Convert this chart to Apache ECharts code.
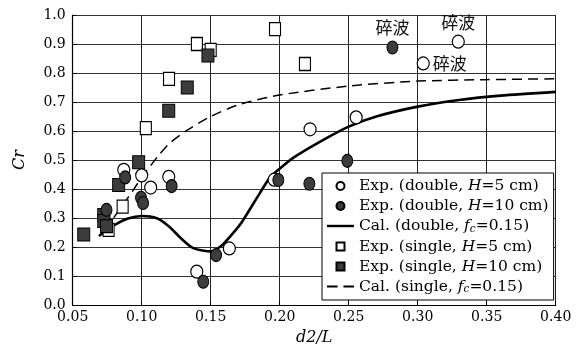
<!DOCTYPE html>
<html><head><meta charset="utf-8">
<script src="https://cdn.jsdelivr.net/npm/echarts@6/dist/echarts.min.js"></script>
<style>html,body{margin:0;padding:0;background:#fff}#c{width:578px;height:360px}</style>
</head><body><div id="c"></div>
<script>
// ---- data ----
const seriesNames = ['Exp. (double, H=5 cm)', 'Exp. (double, H=10 cm)', 'Cal. (double, fc=0.15)',
  'Exp. (single, H=5 cm)', 'Exp. (single, H=10 cm)', 'Cal. (single, fc=0.15)'];
const doubleH5 = [[0.087,0.466],[0.100,0.447],[0.1065,0.405],[0.1196,0.442],[0.1399,0.115],[0.1635,0.195],
  [0.196,0.432],[0.222,0.606],[0.2554,0.647],[0.304,0.833],[0.3294,0.908]];
const doubleH10 = [[0.088,0.44],[0.0745,0.328],[0.0995,0.37],[0.101,0.352],[0.1217,0.41],[0.1446,0.08],
  [0.1539,0.172],[0.199,0.431],[0.2215,0.418],[0.249,0.497],[0.2817,0.888]];
const calDouble = [[0.069,0.238],[0.08,0.275],[0.09,0.298],[0.10,0.307],[0.111,0.299],[0.12,0.27],[0.128,0.232],
  [0.1374,0.196],[0.1507,0.185],[0.158,0.205],[0.164,0.236],[0.172,0.282],[0.1855,0.385],[0.193,0.44],[0.20,0.47],
  [0.21,0.508],[0.23,0.565],[0.25,0.615],[0.27,0.65],[0.30,0.684],[0.33,0.707],[0.36,0.722],[0.40,0.735]];
const singleH5 = [[0.076,0.259],[0.0862,0.339],[0.103,0.61],[0.1198,0.78],[0.140,0.90],[0.150,0.88],
  [0.1966,0.951],[0.2183,0.831]];
const singleH10 = [[0.058,0.243],[0.0725,0.31],[0.0725,0.29],[0.0745,0.272],[0.0833,0.414],[0.0978,0.492],
  [0.1196,0.67],[0.133,0.75],[0.148,0.86]];
const calSingle = [[0.072,0.26],[0.078,0.29],[0.084,0.33],[0.093,0.39],[0.10,0.44],[0.108,0.49],[0.113,0.52],
  [0.12,0.557],[0.133,0.603],[0.15,0.65],[0.17,0.69],[0.20,0.724],[0.25,0.755],[0.30,0.772],[0.35,0.777],[0.40,0.78]];
const breakText = '碎波';
const breakOpen = [9, 10];   // indices in doubleH5 with label
const breakFilled = [10];    // indices in doubleH10 with label
const xTicks = ['0.05','0.10','0.15','0.20','0.25','0.30','0.35','0.40'];
const yTicks = ['0.0','0.1','0.2','0.3','0.4','0.5','0.6','0.7','0.8','0.9','1.0'];

// ---- chart ----
const serif = 'DejaVu Serif';
const cjk = 'Noto Sans CJK JP';
function withLabels(arr, idx, pos) {
  return arr.map((p, i) => {
    if (!idx.includes(i)) return p;
    const j = idx.indexOf(i);
    return { value: p, label: { show: true, formatter: breakText, position: pos[j], distance: pos[j]==='right'?3:4,
      fontFamily: cjk, fontSize: 17, color: '#111' } };
  });
}
const chart = echarts.init(document.getElementById('c'), null, { renderer: 'canvas' });
const openStyle = { color: '#fff', borderColor: '#000', borderWidth: 1.2, opacity: 1 };
const filledStyle = { color: '#3c3c3c', borderColor: '#000', borderWidth: 1, opacity: 1 };
const sqIcon = 'path://M0,0h10v10h-10z';
const solidIcon = 'path://M0,0h27v2.4h-27z';
const dashIcon = 'path://M0,0h9v1.5h-9z M14,0h9v1.5h-9z';
chart.setOption({
  animation: false,
  backgroundColor: '#fff',
  grid: { left: 72.7, right: 22.3, top: 15, bottom: 55, containLabel: false },
  xAxis: {
    type: 'value', min: 0.05, max: 0.40, interval: 0.05,
    name: 'd2/L', nameLocation: 'middle', nameGap: 25,
    nameTextStyle: { fontFamily: serif, fontStyle: 'italic', fontSize: 16, color: '#000' },
    axisLine: { show: true, lineStyle: { color: '#000', width: 1.2 } },
    axisTick: { show: true, inside: true, length: 4, lineStyle: { color: '#000' } },
    axisLabel: { fontFamily: serif, fontSize: 14, color: '#000', margin: 5,
      formatter: v => xTicks[Math.round((v - 0.05) / 0.05)] },
    splitLine: { show: true, lineStyle: { color: '#222', width: 1 } }
  },
  yAxis: {
    type: 'value', min: 0, max: 1.0, interval: 0.1,
    name: 'Cr', nameLocation: 'middle', nameGap: 45, nameRotate: 90,
    nameTextStyle: { fontFamily: serif, fontStyle: 'italic', fontSize: 16, color: '#000' },
    axisLine: { show: true, lineStyle: { color: '#000', width: 1.2 } },
    axisTick: { show: true, inside: true, length: 4, lineStyle: { color: '#000' } },
    axisLabel: { fontFamily: serif, fontSize: 14, color: '#000', margin: 7,
      formatter: v => yTicks[Math.round(v * 10)] },
    splitLine: { show: true, lineStyle: { color: '#333', width: 1 } }
  },
  legend: {
    orient: 'vertical', left: 322, top: 173,
    data: [
      { name: seriesNames[0], icon: 'circle' },
      { name: seriesNames[1], icon: 'circle' },
      { name: seriesNames[2], icon: solidIcon },
      { name: seriesNames[3], icon: sqIcon },
      { name: seriesNames[4], icon: sqIcon },
      { name: seriesNames[5], icon: dashIcon }
    ],
    backgroundColor: '#fff', borderColor: '#000', borderWidth: 1,
    padding: [5, 5, 5, 5],
    itemWidth: 27, itemHeight: 8, itemGap: 4,
    textStyle: { fontFamily: serif, fontSize: 15.5, color: '#000',
      rich: {
        i: { fontFamily: serif, fontStyle: 'italic', fontSize: 15.5, color: '#000' },
        s: { fontFamily: serif, fontStyle: 'italic', fontSize: 10.5, color: '#000', padding: [6, 0, 0, 0] }
      } },
    formatter: n => n.replace('H=', '{i|H}=').replace('fc=', '{i|f}{s|c}=')
  },
  series: [
    { name: seriesNames[3], type: 'scatter', symbol: 'rect', symbolSize: [11, 13], itemStyle: openStyle,
      data: singleH5, z: 3 },
    { name: seriesNames[4], type: 'scatter', symbol: 'rect', symbolSize: [12, 13], itemStyle: filledStyle,
      data: singleH10, z: 4 },
    { name: seriesNames[0], type: 'scatter', symbol: 'circle', symbolSize: [12, 13], itemStyle: openStyle,
      data: withLabels(doubleH5, breakOpen, ['right', 'top']), z: 5 },
    { name: seriesNames[1], type: 'scatter', symbol: 'circle', symbolSize: [11, 13], itemStyle: filledStyle,
      data: withLabels(doubleH10, breakFilled, ['top']), z: 6 },
    { name: seriesNames[2], type: 'line', symbol: 'none', smooth: 0.25, data: calDouble,
      lineStyle: { color: '#000', width: 2.6 }, itemStyle: { color: '#000' }, z: 2 },
    { name: seriesNames[5], type: 'line', symbol: 'none', smooth: 0.25, data: calSingle,
      lineStyle: { color: '#000', width: 1.5, type: [10, 6] }, itemStyle: { color: '#000' }, z: 2 }
  ]
});
</script></body></html>
